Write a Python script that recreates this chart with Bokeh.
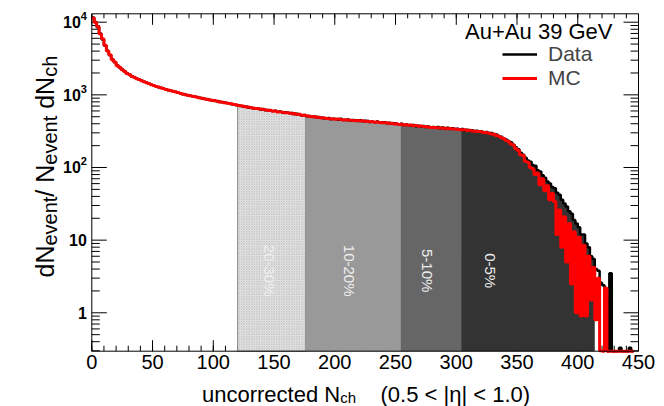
from math import pi, log10

from bokeh.plotting import figure
from bokeh.models import Range1d, Legend, LegendItem
from bokeh.core.properties import value
from bokeh.embed import file_html
from bokeh.resources import INLINE

# ---------------------------------------------------------------------------
# Multiplicity distribution, Au+Au 39 GeV, 2-unit bins starting at Nch = 0
# ---------------------------------------------------------------------------
BIN_WIDTH = 2

data_counts = [
    11600, 10100, 8500, 7000, 5800, 4750, 4050, 3500, 3100, 2800,
    2560, 2370, 2240, 2090, 1990, 1900, 1800, 1740, 1680, 1615,
    1570, 1510, 1475, 1420, 1385, 1340, 1315, 1270, 1255, 1215,
    1195, 1160, 1150, 1110, 1105, 1065, 1050, 1020, 1015, 985,
    975, 955, 950, 925, 915, 890, 885, 860, 855, 835,
    838, 815, 810, 790, 792, 770, 765, 745, 742, 720,
    718, 700, 688, 690, 668, 672, 650, 655, 648, 630,
    640, 615, 618, 610, 598, 604, 585, 592, 570, 578,
    570, 558, 562, 540, 548, 535, 520, 530, 508, 512,
    505, 496, 500, 482, 486, 478, 470, 480, 462, 470,
    466, 455, 468, 450, 452, 458, 440, 450, 446, 436,
    448, 432, 440, 436, 424, 430, 420, 428, 412, 420,
    418, 408, 414, 400, 406, 398, 392, 400, 384, 390,
    386, 378, 384, 370, 376, 368, 372, 360, 366, 358,
    362, 352, 360, 348, 356, 344, 352, 340, 346, 338,
    342, 334, 338, 326, 332, 322, 326, 318, 320, 310,
    314, 306, 308, 298, 298, 288, 284, 272, 266, 252,
    243, 232, 222, 205, 190, 178, 160, 150, 136, 125,
    120, 108, 106, 92, 88, 78, 72, 64, 60, 54,
    52, 45, 42, 36, 32, 29, 25, 23, 19, 17,
    15, 12, 12, 9, 8, 6, 5.5, 4, 3.8, 2.6,
    2.4, 1.6, 0, 3.5, 0, 0, 0, 0.33, 0, 0,
    0, 0.33, 0,
]

mc_counts = [
    11400, 9900, 8700, 6900, 5900, 4800, 4000, 3550, 3050, 2830,
    2520, 2400, 2210, 2110, 1970, 1910, 1790, 1750, 1670, 1625,
    1560, 1520, 1465, 1430, 1375, 1350, 1305, 1280, 1245, 1225,
    1185, 1170, 1140, 1120, 1095, 1075, 1045, 1030, 1005, 990,
    970, 960, 940, 930, 905, 895, 878, 868, 848, 840,
    828, 820, 800, 795, 780, 775, 758, 752, 735, 728,
    710, 708, 694, 680, 678, 664, 660, 648, 642, 638,
    628, 626, 610, 612, 596, 600, 582, 586, 575, 566,
    565, 562, 548, 552, 538, 540, 525, 522, 514, 506,
    500, 504, 488, 492, 480, 484, 474, 470, 468, 464,
    460, 464, 456, 452, 454, 446, 448, 442, 440, 444,
    438, 440, 430, 434, 426, 428, 418, 422, 416, 414,
    412, 414, 404, 406, 398, 400, 392, 394, 386, 388,
    380, 384, 376, 378, 370, 372, 366, 364, 362, 356,
    356, 354, 350, 352, 346, 348, 342, 344, 338, 340,
    336, 332, 330, 332, 324, 326, 318, 316, 312, 314,
    308, 304, 300, 296, 290, 286, 276, 270, 258, 250,
    236, 228, 210, 204, 182, 172, 150, 146, 122, 118,
    100, 96, 80, 84, 58, 70, 48, 56, 36, 44,
    34, 12, 26, 8, 21, 5, 17, 2.5, 13, 1.0,
    11, 0.9, 8.5, 0.9, 6, 1.5, 4.2, 0.8, 3, 0.3,
    0, 2.2, 0, 0, 0, 0, 0, 0, 0, 0,
    0, 0, 0,
]

# centrality classes (Nch boundaries) and their names
centrality_edges = [120, 176, 254, 304, 414]
centrality_labels = ["20-30%", "10-20%", "5-10%", "0-5%"]
centrality_colors = ["#e9e9e9", "#999999", "#666666", "#333333"]
centrality_label_x = [146, 212, 276, 328]
centrality_label_y = 3.8

x_ticks = [0, 50, 100, 150, 200, 250, 300, 350, 400, 450]
x_minor = list(range(0, 451, 10))
y_ticks = [1, 10, 100, 1000, 10000]
y_minor = [m * 10 ** e for e in range(-1, 5) for m in range(2, 10)]
y_tick_base = ["1", "10", "10", "10", "10"]
y_tick_exp = ["", "", "2", "3", "4"]

# plotting box (axis limits)
XLO, XHI = 0, 450
YLO, YHI = 0.296, 13050

FONT = "Liberation Sans"

# The canvas is one big frame; the axis box sits inside it with the
# margins below, so that the axis titles and numbers can be drawn freely.
W, H = 664, 406
BOX_L, BOX_R, BOX_T, BOX_B = 91.3, 638.0, 13.3, 350.7
PX_PER_X = (BOX_R - BOX_L) / (XHI - XLO)
PX_PER_DEC = (BOX_B - BOX_T) / (log10(YHI) - log10(YLO))
X0 = XLO - BOX_L / PX_PER_X
X1 = X0 + W / PX_PER_X
Y1 = 10 ** (log10(YHI) + BOX_T / PX_PER_DEC)
Y0 = 10 ** (log10(YLO) - (H - BOX_B) / PX_PER_DEC)
BASELINE_SHIFT = 5   # alphabetic text sits this many px low; lift it back


def xpix(px):
    return X0 + px / PX_PER_X


def ypix(py):
    return 10 ** (log10(Y1) - py / PX_PER_DEC)


def x_len(px):               # horizontal length in data units
    return px / PX_PER_X


def y_fac(px):               # vertical length as a factor on the log axis
    return 10 ** (px / PX_PER_DEC)


# Arial / Liberation Sans advance widths (1/1000 em) used to chain text pieces
ADV = {'u': 556, 'n': 556, 'c': 500, 'o': 556, 'r': 333, 'e': 556, 't': 278,
       'd': 556, ' ': 278, 'N': 722, 'v': 500, 'h': 556, '/': 278}


def text_width(s, size):
    return sum(ADV[ch] for ch in s) * size / 1000.0


edges = [i * BIN_WIDTH for i in range(len(data_counts) + 1)]


def step_xy(counts):
    xs, ys = [], []
    for i, c in enumerate(counts):
        v = max(c, YLO)
        xs += [edges[i], edges[i + 1]]
        ys += [v, v]
    return xs, ys


p = figure(width=W, height=H, x_range=Range1d(X0, X1), y_range=Range1d(Y0, Y1),
           y_axis_type="log", x_axis_location=None, y_axis_location=None,
           output_backend="svg", toolbar_location=None, min_border=0)
p.grid.visible = False
p.outline_line_color = None
p.background_fill_color = "white"
p.border_fill_color = "white"

# ---- tick marks, inside the box on all four sides (under the slices) -------
TK = dict(line_color="black", line_width=1)
p.segment(x0=x_ticks, y0=[YLO] * len(x_ticks), x1=x_ticks,
          y1=[YLO * y_fac(11)] * len(x_ticks), **TK)
p.segment(x0=x_minor, y0=[YLO] * len(x_minor), x1=x_minor,
          y1=[YLO * y_fac(5.5)] * len(x_minor), **TK)
p.segment(x0=x_ticks, y0=[YHI] * len(x_ticks), x1=x_ticks,
          y1=[YHI / y_fac(11)] * len(x_ticks), **TK)
p.segment(x0=x_minor, y0=[YHI] * len(x_minor), x1=x_minor,
          y1=[YHI / y_fac(4.5)] * len(x_minor), **TK)
y_minor_in = [v for v in y_minor if YLO <= v <= YHI]
for xe, sgn in ((XLO, 1), (XHI, -1)):
    p.segment(x0=[xe] * len(y_ticks), y0=y_ticks,
              x1=[xe + sgn * x_len(15)] * len(y_ticks), y1=y_ticks, **TK)
    p.segment(x0=[xe] * len(y_minor_in), y0=y_minor_in,
              x1=[xe + sgn * x_len(8)] * len(y_minor_in), y1=y_minor_in, **TK)

# ---- filled centrality slices under the data histogram --------------------
for k in range(len(centrality_labels)):
    a, b = centrality_edges[k], centrality_edges[k + 1]
    xs, ys = [a], [YLO]
    for i, c in enumerate(data_counts):
        if edges[i] >= a and edges[i + 1] <= b:
            v = max(c, YLO)
            xs += [edges[i], edges[i + 1]]
            ys += [v, v]
    xs.append(b)
    ys.append(YLO)
    if k == 0:
        p.patch(xs, ys, fill_color=centrality_colors[k],
                hatch_pattern="diagonal_cross", hatch_color="#b5b5b5",
                hatch_scale=2.5, hatch_weight=0.6,
                line_color="#8a8a8a", line_width=1)
    else:
        p.patch(xs, ys, fill_color=centrality_colors[k], line_color=None)

p.text(x=centrality_label_x, y=[centrality_label_y] * len(centrality_labels),
       text=centrality_labels, angle=-pi / 2,
       text_align="center", text_baseline="middle",
       text_font=value(FONT), text_font_size="15px", text_color="#eeeeee")

# ---- histograms ------------------------------------------------------------
dx, dy = step_xy(data_counts)
mx, my = step_xy(mc_counts)
r_data = p.line(dx, dy, line_color="black", line_width=2.5)
r_mc = p.line(mx, my, line_color="#ff0000", line_width=3)

# ---- axis box ----------------------------------------------------------------
p.quad(left=[XLO], right=[XHI], bottom=[YLO], top=[YHI],
       fill_color=None, line_color="black", line_width=1)

# ---- tick numbers -----------------------------------------------------------
p.text(x=x_ticks, y=[YLO] * len(x_ticks), text=[str(t) for t in x_ticks],
       y_offset=4, text_align="center", text_baseline="top",
       text_font=value(FONT), text_font_size="20px", text_color="black")

for val, base, exp in zip(y_ticks, y_tick_base, y_tick_exp):
    right_edge = -11 if exp else -5
    p.text(x=[XLO], y=[val], text=[base], x_offset=right_edge,
           text_align="right", text_baseline="middle",
           text_font=value(FONT), text_font_style="bold",
           text_font_size="16px", text_color="black")
    if exp:
        p.text(x=[XLO], y=[val], text=[exp], x_offset=right_edge, y_offset=-6,
               text_align="left", text_baseline="middle",
               text_font=value(FONT), text_font_style="bold",
               text_font_size="11px", text_color="black")


def put(px, py, text, size, angle=0.0, align="left", dx=0, dy=0):
    if angle:
        dx -= BASELINE_SHIFT
    else:
        dy -= BASELINE_SHIFT
    p.text(x=[xpix(px)], y=[ypix(py)], text=[text], angle=angle,
           x_offset=dx, y_offset=dy, text_align=align,
           text_baseline="alphabetic", text_font=value(FONT),
           text_font_size=f"{size}px", text_color="black")


# ---- axis titles built from pieces so that subscripts can be lowered ------
MAIN, SUB = 22, 15
tx, tbase = 201.5, 399.0
put(tx, tbase, "uncorrected N", MAIN)
put(tx + text_width("uncorrected N", MAIN), tbase, "ch", SUB, dy=3)
put(380.0, tbase, "(0.5 < |\u03b7| < 1.0)", MAIN)

# pieces: (text, is_subscript, space after it in em of the main size)
YMAIN, YSUB = 25, 20
ytitle = [("dN", False, 0), ("event", True, 0), ("/", False, 0.278),
          ("N", False, 0), ("event", True, 0.278), ("dN", False, 0),
          ("ch", True, 0)]
ty, tx_main = 277.0, 49.0
for piece, is_sub, gap in ytitle:
    size = YSUB if is_sub else YMAIN
    put(tx_main, ty, piece, size, angle=pi / 2, dx=(5 if is_sub else 0))
    ty -= text_width(piece, size) + gap * YMAIN

# ---- legend -----------------------------------------------------------------
put(612.0, 36.0, "Au+Au 39 GeV", MAIN, align="right")
legend = Legend(items=[LegendItem(label="Data", renderers=[r_data]),
                       LegendItem(label="MC", renderers=[r_mc])],
                location=(502, 316), glyph_width=35, glyph_height=20,
                label_height=20, spacing=-6, padding=0, margin=0,
                label_standoff=11, label_text_font=FONT,
                label_text_font_size="21px", border_line_alpha=0,
                background_fill_alpha=0)
p.add_layout(legend)

open("out.html", "w").write(file_html(p, INLINE))
